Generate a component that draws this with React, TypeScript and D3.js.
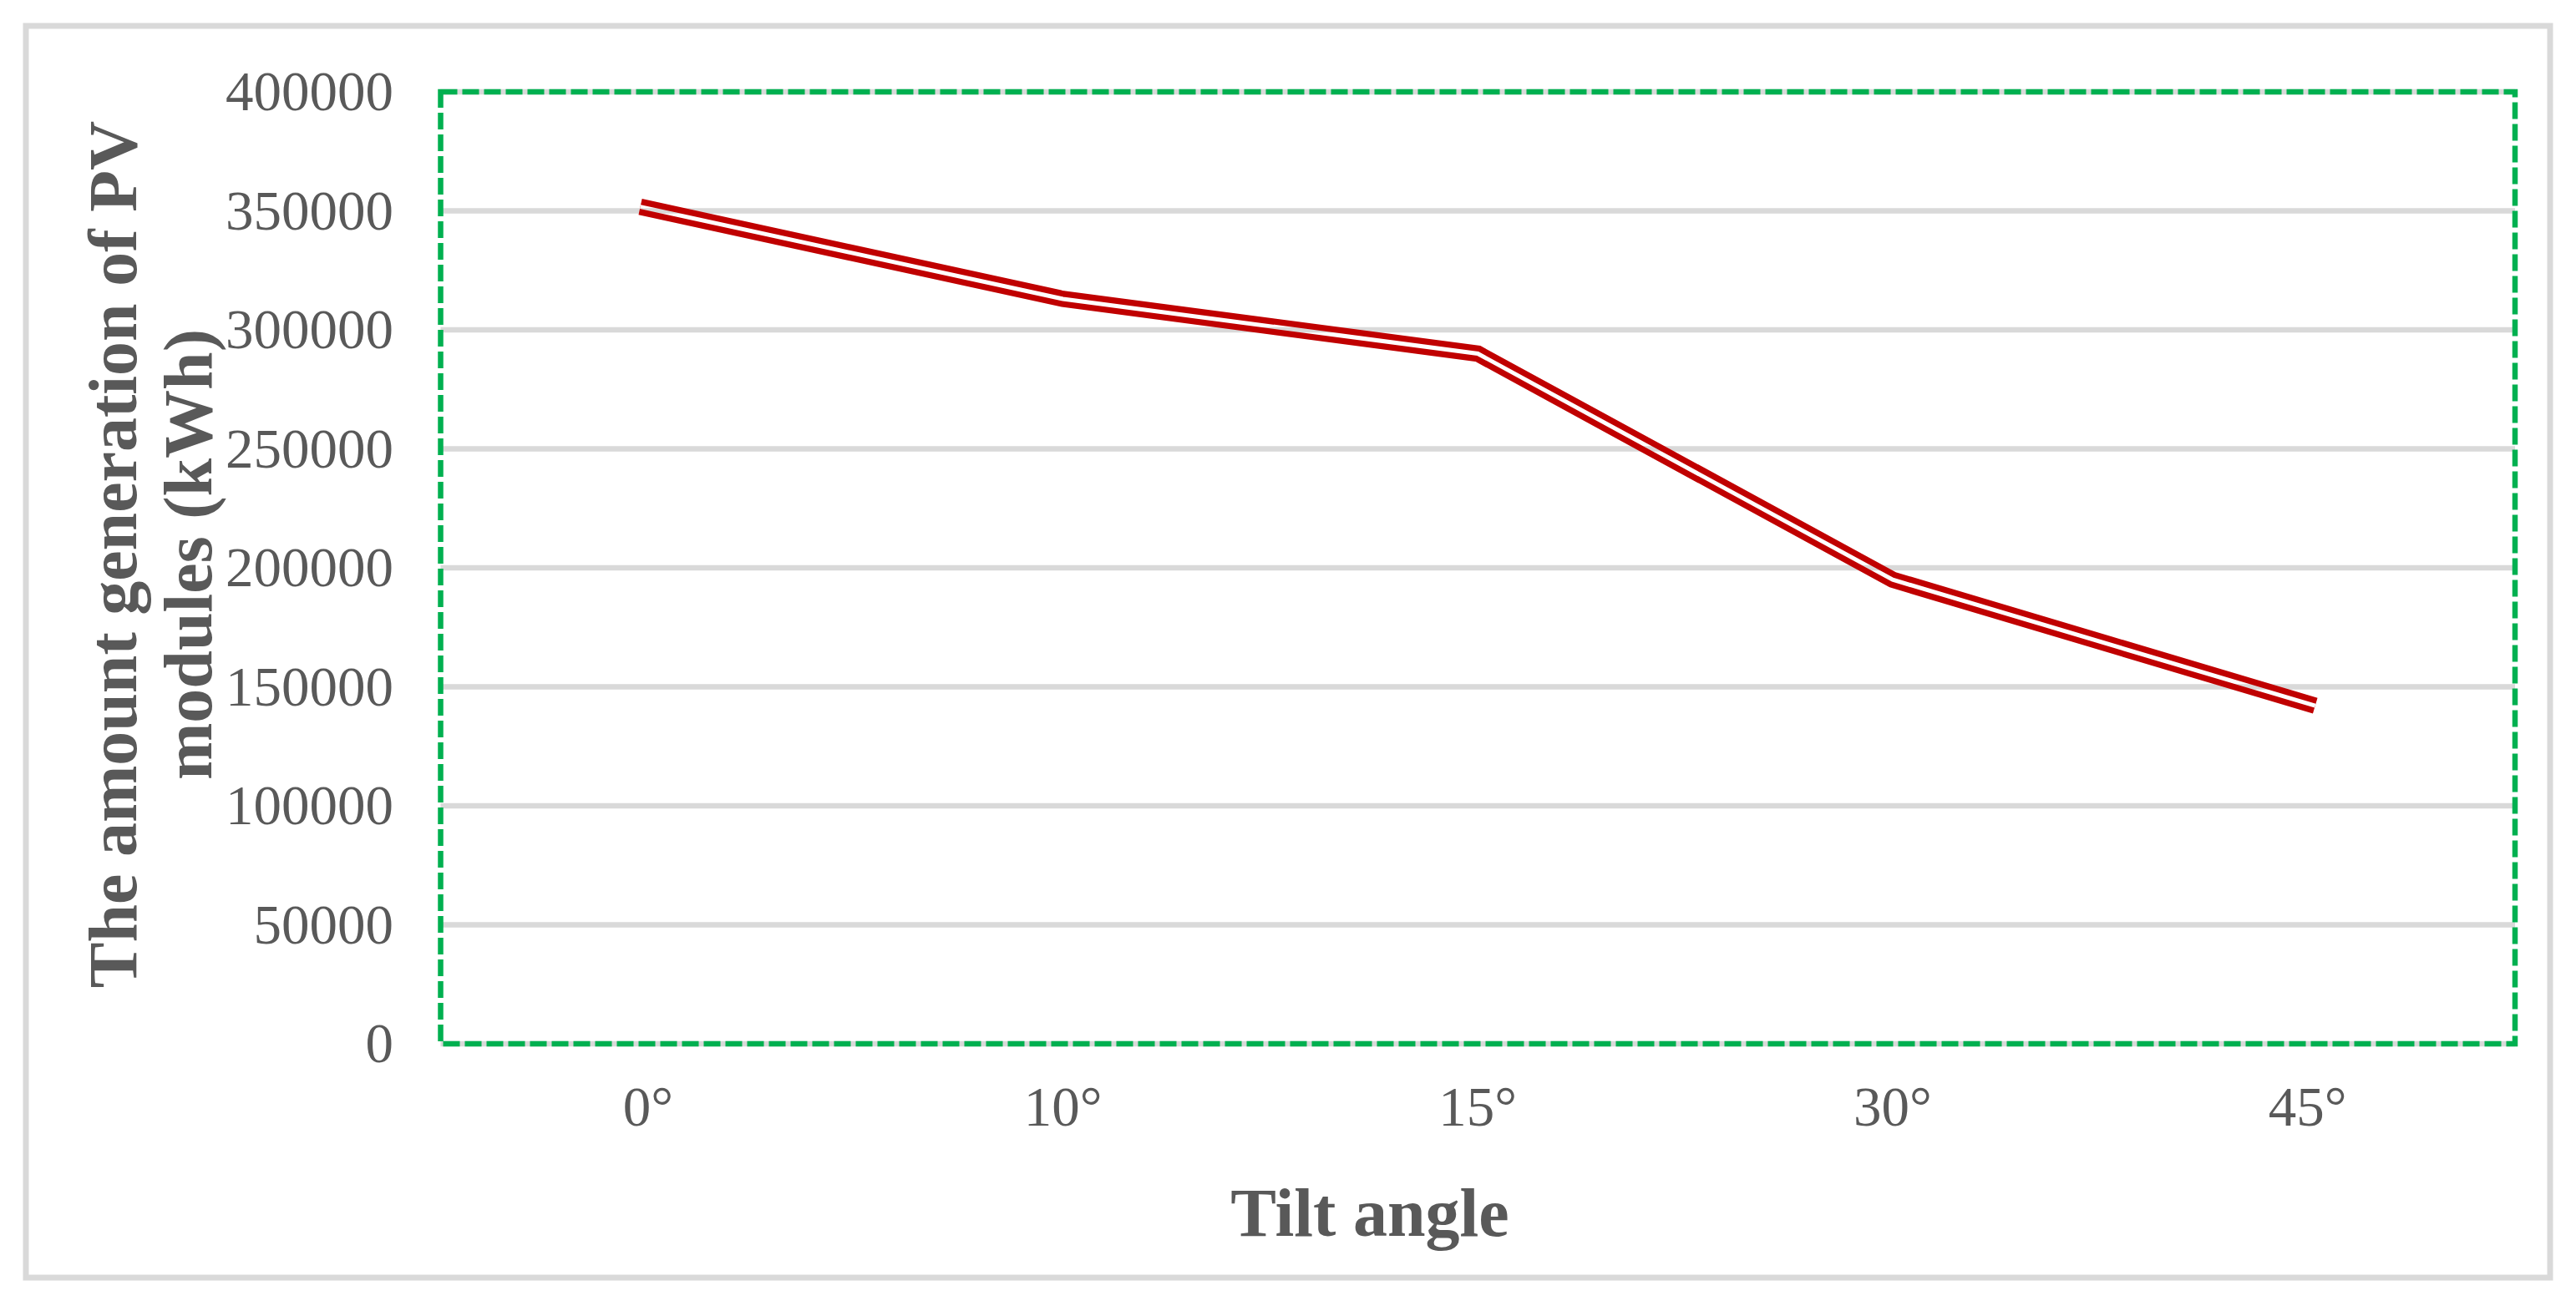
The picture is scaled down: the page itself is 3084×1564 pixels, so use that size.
import React from 'react';
import { scaleLinear, scalePoint, line } from 'd3';

// data
const tiltAngles = ['0°', '10°', '15°', '30°', '45°'];
const generation = [351000, 313000, 290000, 195000, 143000];
const yTicks = [0, 50000, 100000, 150000, 200000, 250000, 300000, 350000, 400000];

const W = 3084;
const H = 1564;
const plot = { left: 527.5, right: 3011, top: 110, bottom: 1250 };
const TEXT = '#595959';
const GRID = '#d9d9d9';
const RED = '#c00000';
const GREEN = '#00b050';
const SERIF = '"Liberation Serif", "Times New Roman", serif';

// stretch first/last point along the segment direction (excel draws square ends)
const extendEnds = (pts: [number, number][], d: number): [number, number][] => {
  const out = pts.map(p => [p[0], p[1]] as [number, number]);
  const n = out.length;
  const push = (a: [number, number], b: [number, number]) => {
    const dx = a[0] - b[0];
    const dy = a[1] - b[1];
    const len = Math.hypot(dx, dy);
    a[0] += (dx / len) * d;
    a[1] += (dy / len) * d;
  };
  push(out[0], pts[1]);
  push(out[n - 1], pts[n - 2]);
  return out;
};

export default function App() {
  const x = scalePoint<string>()
    .domain(tiltAngles)
    .range([plot.left, plot.right])
    .padding(0.5);
  const y = scaleLinear().domain([0, 400000]).range([plot.bottom, plot.top]);

  const pts = tiltAngles.map((a, i) => [x(a) as number, y(generation[i])] as [number, number]);
  const path = line()(extendEnds(pts, 9.5)) || '';

  const midY = (plot.top + plot.bottom) / 2 - 16;

  return (
    <svg width={W} height={H} style={{ position: 'absolute', left: 0, top: 0, background: '#fff' }}>
      <defs>
        <mask id="gap" maskUnits="userSpaceOnUse" x={0} y={0} width={W} height={H}>
          <rect x={0} y={0} width={W} height={H} fill="#fff" />
          <path d={path} fill="none" stroke="#000" strokeWidth={5} strokeLinejoin="miter" />
        </mask>
      </defs>

      <rect x={31} y={31} width={3022} height={1499} fill="#fff" stroke={GRID} strokeWidth={7} />

      {/* gridlines */}
      {yTicks.map(t => (
        <line key={t} x1={plot.left} x2={plot.right} y1={y(t)} y2={y(t)} stroke={GRID} strokeWidth={6.5} />
      ))}

      {/* plot area border */}
      <rect
        x={plot.left}
        y={plot.top}
        width={plot.right - plot.left}
        height={plot.bottom - plot.top}
        fill="none"
        stroke={GREEN}
        strokeWidth={6.5}
        strokeDasharray="20 6"
      />

      {/* double line series */}
      <path d={path} fill="none" stroke={RED} strokeWidth={19.5} strokeLinejoin="miter" mask="url(#gap)" />

      {/* y tick labels */}
      {yTicks.map(t => (
        <text key={t} x={471} y={y(t) + 22} textAnchor="end" fontFamily={SERIF} fontSize={67} fill={TEXT}>
          {t}
        </text>
      ))}

      {/* x tick labels */}
      {tiltAngles.map(a => (
        <text key={a} x={x(a)} y={1348} textAnchor="middle" fontFamily={SERIF} fontSize={67} fill={TEXT}>
          {a}
        </text>
      ))}

      <text x={1640} y={1480} textAnchor="middle" fontFamily={SERIF} fontSize={82} fontWeight="bold" fill={TEXT}>
        Tilt angle
      </text>

      <g transform={`translate(163, ${midY}) rotate(-90)`}>
        <text x={0} y={0} textAnchor="middle" fontFamily={SERIF} fontSize={82} fontWeight="bold" fill={TEXT}>
          The amount generation of PV
        </text>
        <text x={0} y={90} textAnchor="middle" fontFamily={SERIF} fontSize={82} fontWeight="bold" fill={TEXT}>
          modules (kWh)
        </text>
      </g>
    </svg>
  );
}
